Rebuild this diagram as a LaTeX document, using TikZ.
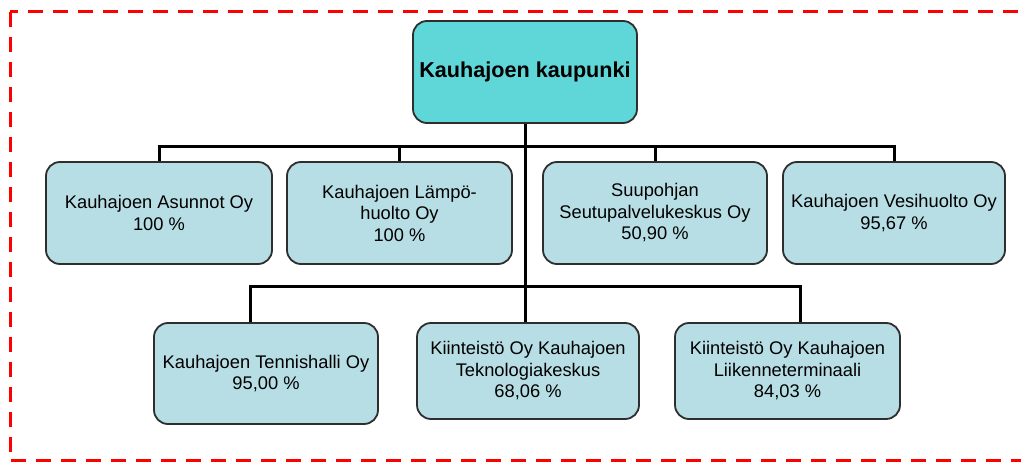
\documentclass[tikz,border=0pt]{standalone}
\usepackage{fontspec}
\setmainfont{Liberation Sans}
\usepackage{tikz}
\usetikzlibrary{calc}
\newcommand{\topcolor}{topcyan}
\newcommand{\boxcolor}{boxblue}
\newcommand{\thickness}{3pt}
\definecolor{topcyan}{HTML}{5FD7D9}
\definecolor{boxblue}{HTML}{B8DEE5}
\definecolor{edgegray}{HTML}{2E2E2E}
\tikzset{
  unit/.style={draw=edgegray, line width=1.8pt, rounded corners=14pt, fill=\boxcolor,
    align=center, inner sep=1pt, minimum height=102pt,
    font=\fontsize{18.3}{21.5}\selectfont},
  city/.style={unit, fill=\topcolor, font=\fontsize{21.6}{25}\selectfont\bfseries},
  link/.style={draw=black, line width=\thickness},
  frame/.style={draw=red, line width=3pt, dash pattern=on 15pt off 10pt}
}

\begin{document}
\begin{tikzpicture}[x=1pt, y=-1pt]
\useasboundingbox (0,0) rectangle (1021,462);
\draw[frame] (10,12) rectangle (1040,461);
%top
\node[city, minimum width=224pt] (kaupunki) at (525, 72) {Kauhajoen kaupunki};
%row 1
\node[unit, minimum width=226pt] (asunnot) at (159, 213) {Kauhajoen Asunnot Oy\\100 \%};
\node[unit, minimum width=225pt] (laempo) at (399.5, 213) {Kauhajoen Lämpö-\\huolto Oy\\100 \%};
\node[unit, minimum width=224pt] (suupohja) at (655, 213) {Suupohjan\\Seutupalvelukeskus Oy\\50,90 \%};
\node[unit, minimum width=222pt] (vesi) at (894, 213) {Kauhajoen Vesihuolto Oy\\95,67 \%};
%row 2
\node[unit, minimum width=224pt, minimum height=101pt] (tennis) at (266, 373.5) {Kauhajoen Tennishalli Oy\\95,00 \%};
\node[unit, minimum width=222pt, minimum height=96pt] (tekno) at (528, 371) {Kiinteistö Oy Kauhajoen\\Teknologiakeskus\\68,06 \%};
\node[unit, minimum width=225pt, minimum height=96pt] (liikenne) at (787.5, 371) {Kiinteistö Oy Kauhajoen\\Liikenneterminaali\\84,03 \%};
%links
\coordinate (bus1) at (525, 147);
\coordinate (bus2) at (525, 287);
\draw[link] (kaupunki.south) -- (kaupunki.south |- tekno.north);
\draw[link] (asunnot.north) |- (bus1) -| (vesi.north);
\draw[link] (laempo.north) -- (laempo.north |- bus1);
\draw[link] (suupohja.north) -- (suupohja.north |- bus1);
\draw[link] ([xshift=-16pt]tennis.north) |- (bus2) -| ([xshift=12.5pt]liikenne.north);
\end{tikzpicture}
\end{document}
